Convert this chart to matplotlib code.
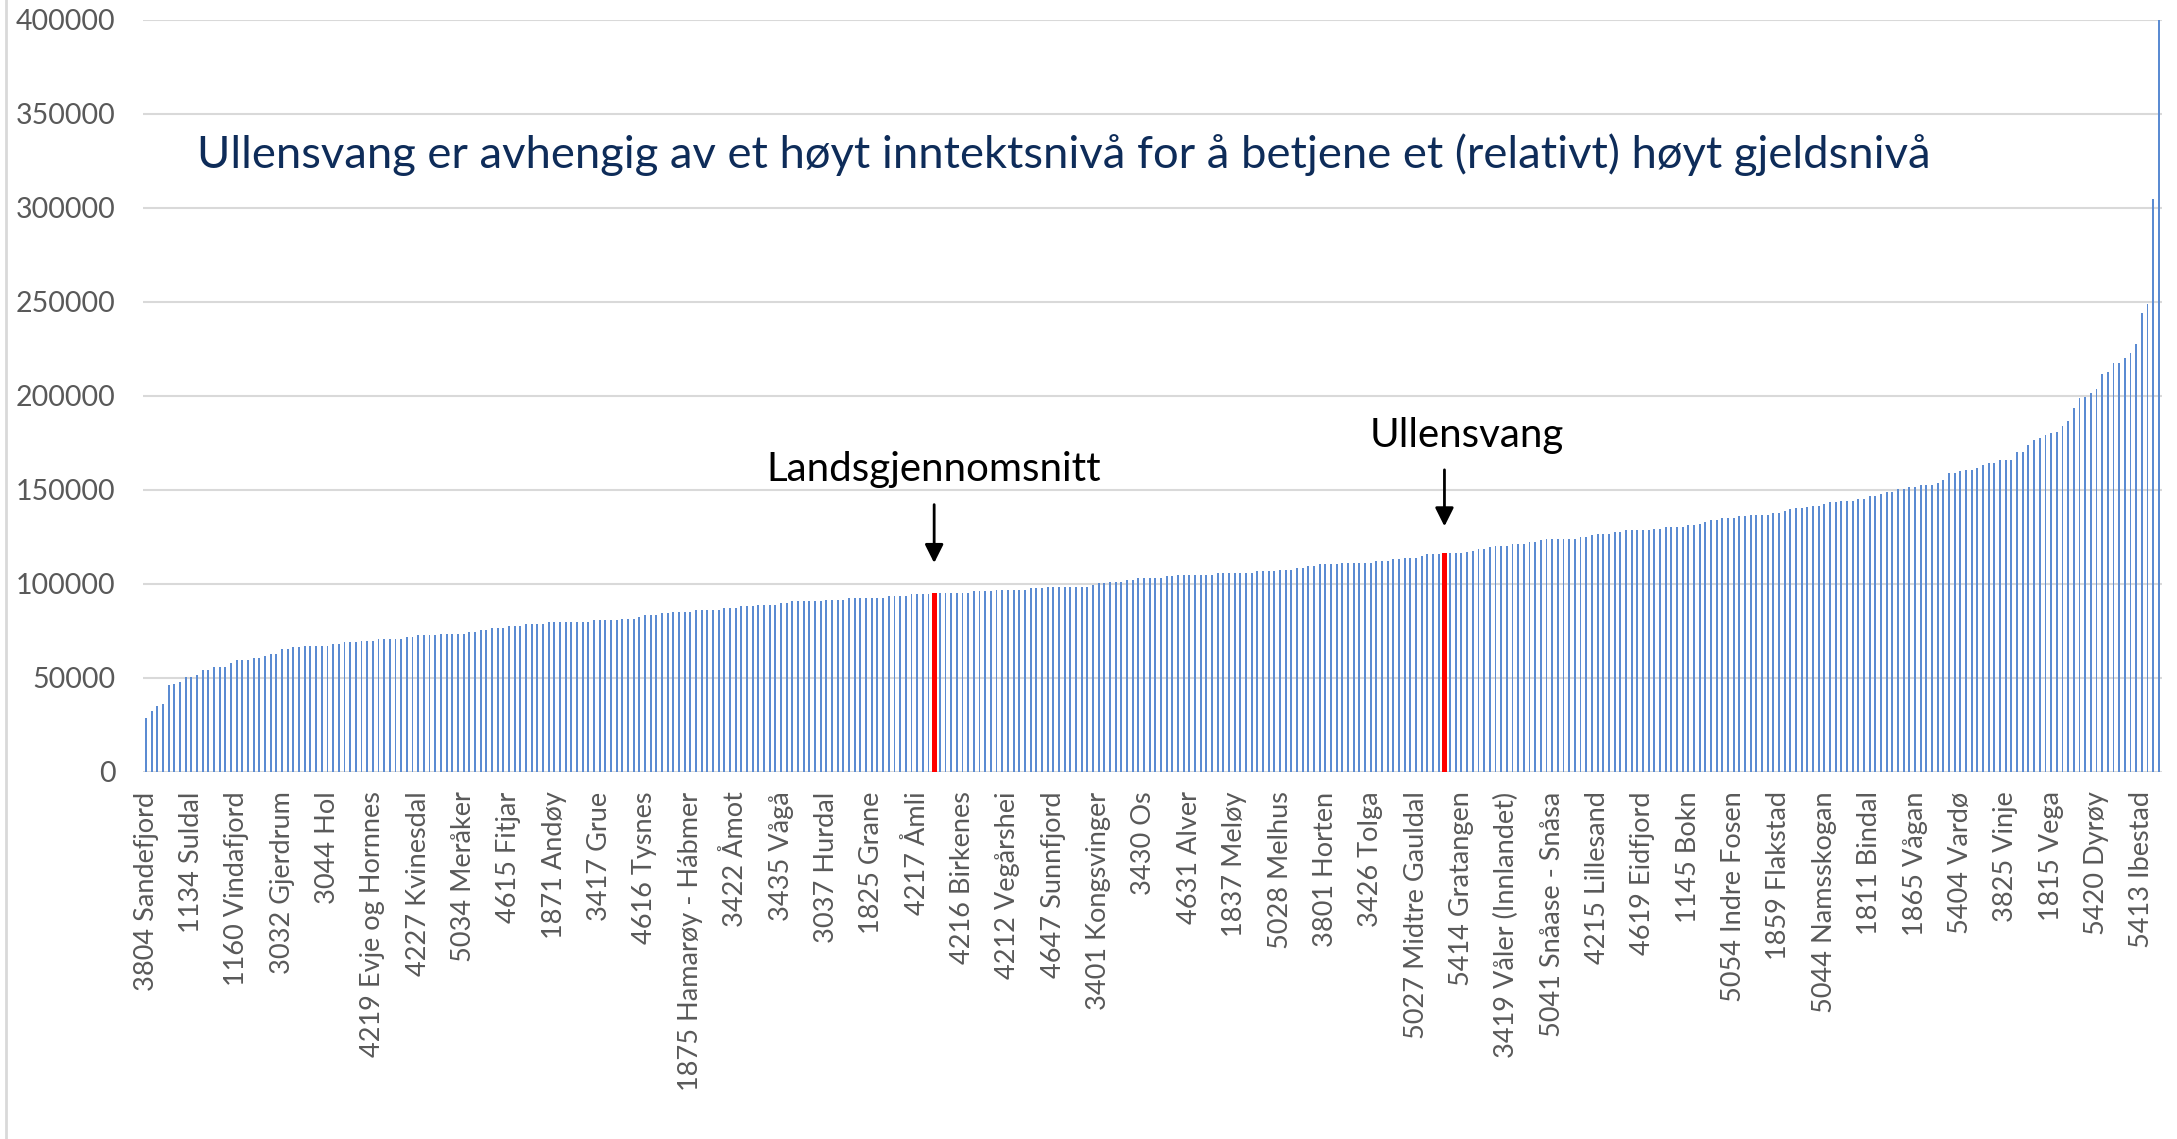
import matplotlib
matplotlib.use("Agg")
import matplotlib.pyplot as plt
from matplotlib.lines import Line2D
from matplotlib.ticker import MultipleLocator, FuncFormatter
import numpy as np

plt.rcParams['font.family'] = ['Lato', 'DejaVu Sans']

# gjeld per innbygger, kommunene sortert stigende (kr)
values = [
    28900, 32600, 35200, 36100, 46100, 47000, 48000, 50500, 50500, 51600,
    54400, 54400, 56100, 56100, 56100, 58100, 59800, 59800, 59800, 60700,
    60700, 61600, 62800, 62800, 65300, 65300, 66400, 66400, 67200, 67200,
    67200, 67200, 67200, 68100, 68100, 69000, 69000, 69000, 69900, 69900,
    69900, 70800, 70800, 70800, 70800, 70800, 71800, 71800, 72700, 72700,
    72700, 72700, 73600, 73600, 73600, 73600, 73600, 74400, 74400, 75300,
    75300, 76400, 76400, 76400, 77400, 77400, 77800, 78700, 78700, 78700,
    78700, 79800, 79800, 79800, 79800, 79800, 79800, 79800, 79800, 80700,
    80700, 80700, 80700, 80700, 81600, 81600, 81600, 82400, 83500, 83500,
    83500, 84400, 84400, 85300, 85300, 85300, 85300, 86200, 86200, 86200,
    86200, 86200, 87100, 87100, 87100, 88100, 88100, 88100, 89000, 89000,
    89000, 89000, 89900, 89900, 90800, 90800, 90800, 90800, 90800, 90800,
    91700, 91700, 91700, 91700, 92600, 92600, 92600, 92600, 92600, 92600,
    92600, 93400, 93400, 93400, 93400, 94500, 94500, 94500, 94500, 95200,
    95200, 95400, 95400, 95400, 95400, 95400, 96300, 96300, 96300, 96300,
    96800, 96800, 96800, 96800, 96800, 96800, 97700, 97700, 97700, 98600,
    98600, 98600, 98600, 98600, 98600, 98600, 98600, 99500, 100400, 100400,
    101200, 101200, 101200, 102100, 102100, 103000, 103000, 103000, 103000, 103000,
    104100, 104100, 105000, 105000, 105000, 105000, 105000, 105000, 105000, 105900,
    105900, 105900, 105900, 105900, 105900, 105900, 106700, 106700, 106700, 106700,
    107600, 107600, 107600, 108500, 108500, 109600, 109600, 110500, 110500, 110500,
    110500, 111300, 111300, 111300, 111300, 111300, 111300, 112200, 112200, 112200,
    113100, 113100, 114000, 114000, 114000, 115100, 116000, 116000, 116000, 116700,
    116700, 116700, 116700, 117000, 117700, 118600, 118600, 119500, 120400, 120400,
    120400, 121300, 121300, 121300, 122300, 122300, 123200, 123900, 123900, 123900,
    123900, 123900, 123900, 124800, 124800, 125900, 126800, 126800, 126800, 127700,
    127700, 128500, 128500, 128500, 128500, 128500, 129400, 129400, 130300, 130300,
    130300, 130300, 131200, 131200, 132100, 133200, 134000, 134000, 134900, 134900,
    134900, 136000, 136000, 136900, 136900, 136900, 136900, 137800, 137800, 138700,
    139700, 140600, 140600, 140700, 141400, 141400, 142300, 143400, 143400, 144300,
    144300, 144300, 145200, 145200, 147000, 147000, 147800, 148900, 148900, 150700,
    150700, 151600, 151600, 152600, 152600, 152600, 153500, 155300, 158900, 158900,
    159900, 160800, 160800, 161700, 163500, 164400, 164400, 166100, 166100, 166100,
    170100, 170100, 173800, 176500, 177500, 179300, 180200, 181100, 183900, 186600,
    193500, 198800, 199700, 201500, 203500, 211500, 212700, 217500, 217500, 220200,
    223000, 227500, 244000, 248800, 305000, 400000,
]

# hver 8. kommune får navn på aksen
tick_labels = [
    "3804 Sandefjord", "1134 Suldal", "1160 Vindafjord", "3032 Gjerdrum",
    "3044 Hol", "4219 Evje og Hornnes", "4227 Kvinesdal", "5034 Meråker",
    "4615 Fitjar", "1871 Andøy", "3417 Grue", "4616 Tysnes",
    "1875 Hamarøy - Hábmer", "3422 Åmot", "3435 Vågå", "3037 Hurdal",
    "1825 Grane", "4217 Åmli", "4216 Birkenes", "4212 Vegårshei",
    "4647 Sunnfjord", "3401 Kongsvinger", "3430 Os", "4631 Alver",
    "1837 Meløy", "5028 Melhus", "3801 Horten", "3426 Tolga",
    "5027 Midtre Gauldal", "5414 Gratangen", "3419 Våler (Innlandet)",
    "5041 Snåase - Snåsa", "4215 Lillesand", "4619 Eidfjord", "1145 Bokn",
    "5054 Indre Fosen", "1859 Flakstad", "5044 Namsskogan", "1811 Bindal",
    "1865 Vågan", "5404 Vardø", "3825 Vinje", "1815 Vega", "5420 Dyrøy",
    "5413 Ibestad",
]
label_step = 8

# uthevede søyler
highlights = {"Landsgjennomsnitt": 139, "Ullensvang": 229}

title = ("Ullensvang er avhengig av et høyt inntektsnivå for å betjene "
         "et (relativt) høyt gjeldsnivå")

W, H = 2177, 1139
fig = plt.figure(figsize=(W / 100, H / 100), dpi=100)
ax = fig.add_axes([143.2 / W, 1 - 772 / H, (2161.7 - 143.2) / W, (772 - 20) / H])

x = np.arange(len(values))
colors = ['#5b8bd2'] * len(values)
widths = [0.34] * len(values)
for idx in highlights.values():
    colors[idx] = '#ff0000'
    widths[idx] = 0.9
ax.bar(x, values, width=widths, color=colors, linewidth=0, zorder=3)

ax.set_xlim(-0.5, len(values) - 0.5)
ax.set_ylim(0, 400000)
ax.yaxis.set_major_locator(MultipleLocator(50000))
ax.yaxis.set_major_formatter(FuncFormatter(lambda v, p: f"{int(v)}"))
ax.yaxis.grid(True, color='#d9d9d9', lw=1.5, zorder=0)
ax.set_axisbelow(True)
for s in ax.spines.values():
    s.set_visible(False)

ax.set_xticks(x[::label_step])
ax.set_xticklabels(tick_labels, rotation=90, ha='center', va='top')
ax.tick_params(axis='x', length=0, pad=14, labelsize=19.5, labelcolor='#595959')
ax.tick_params(axis='y', length=0, pad=20, labelsize=20.5, labelcolor='#595959')

# piler og tekst over de røde søylene
avg_i = highlights["Landsgjennomsnitt"]
ax.annotate("", xy=(avg_i, values[avg_i] + 14500), xytext=(avg_i, values[avg_i] + 48500),
            arrowprops=dict(arrowstyle='-|>', color='black', lw=2, mutation_scale=28))
ax.text(avg_i, values[avg_i] + 65500, "Landsgjennomsnitt", ha='center', va='center',
        fontsize=29, color='black')

ull_i = highlights["Ullensvang"]
ax.annotate("", xy=(ull_i, values[ull_i] + 12500), xytext=(ull_i, values[ull_i] + 45500),
            arrowprops=dict(arrowstyle='-|>', color='black', lw=2, mutation_scale=28))
ax.text(ull_i + 4, values[ull_i] + 62500, "Ullensvang", ha='center', va='center',
        fontsize=29, color='black')

fig.text(197 / W, 1 - 168 / H, title, ha='left', va='baseline', fontsize=32.7,
         color='#0e2c59')

# ramme til venstre
fig.add_artist(Line2D([6 / W, 6 / W], [0, 1], transform=fig.transFigure,
                      color='#d9d9d9', lw=2))

fig.savefig('out.png', dpi=100)
